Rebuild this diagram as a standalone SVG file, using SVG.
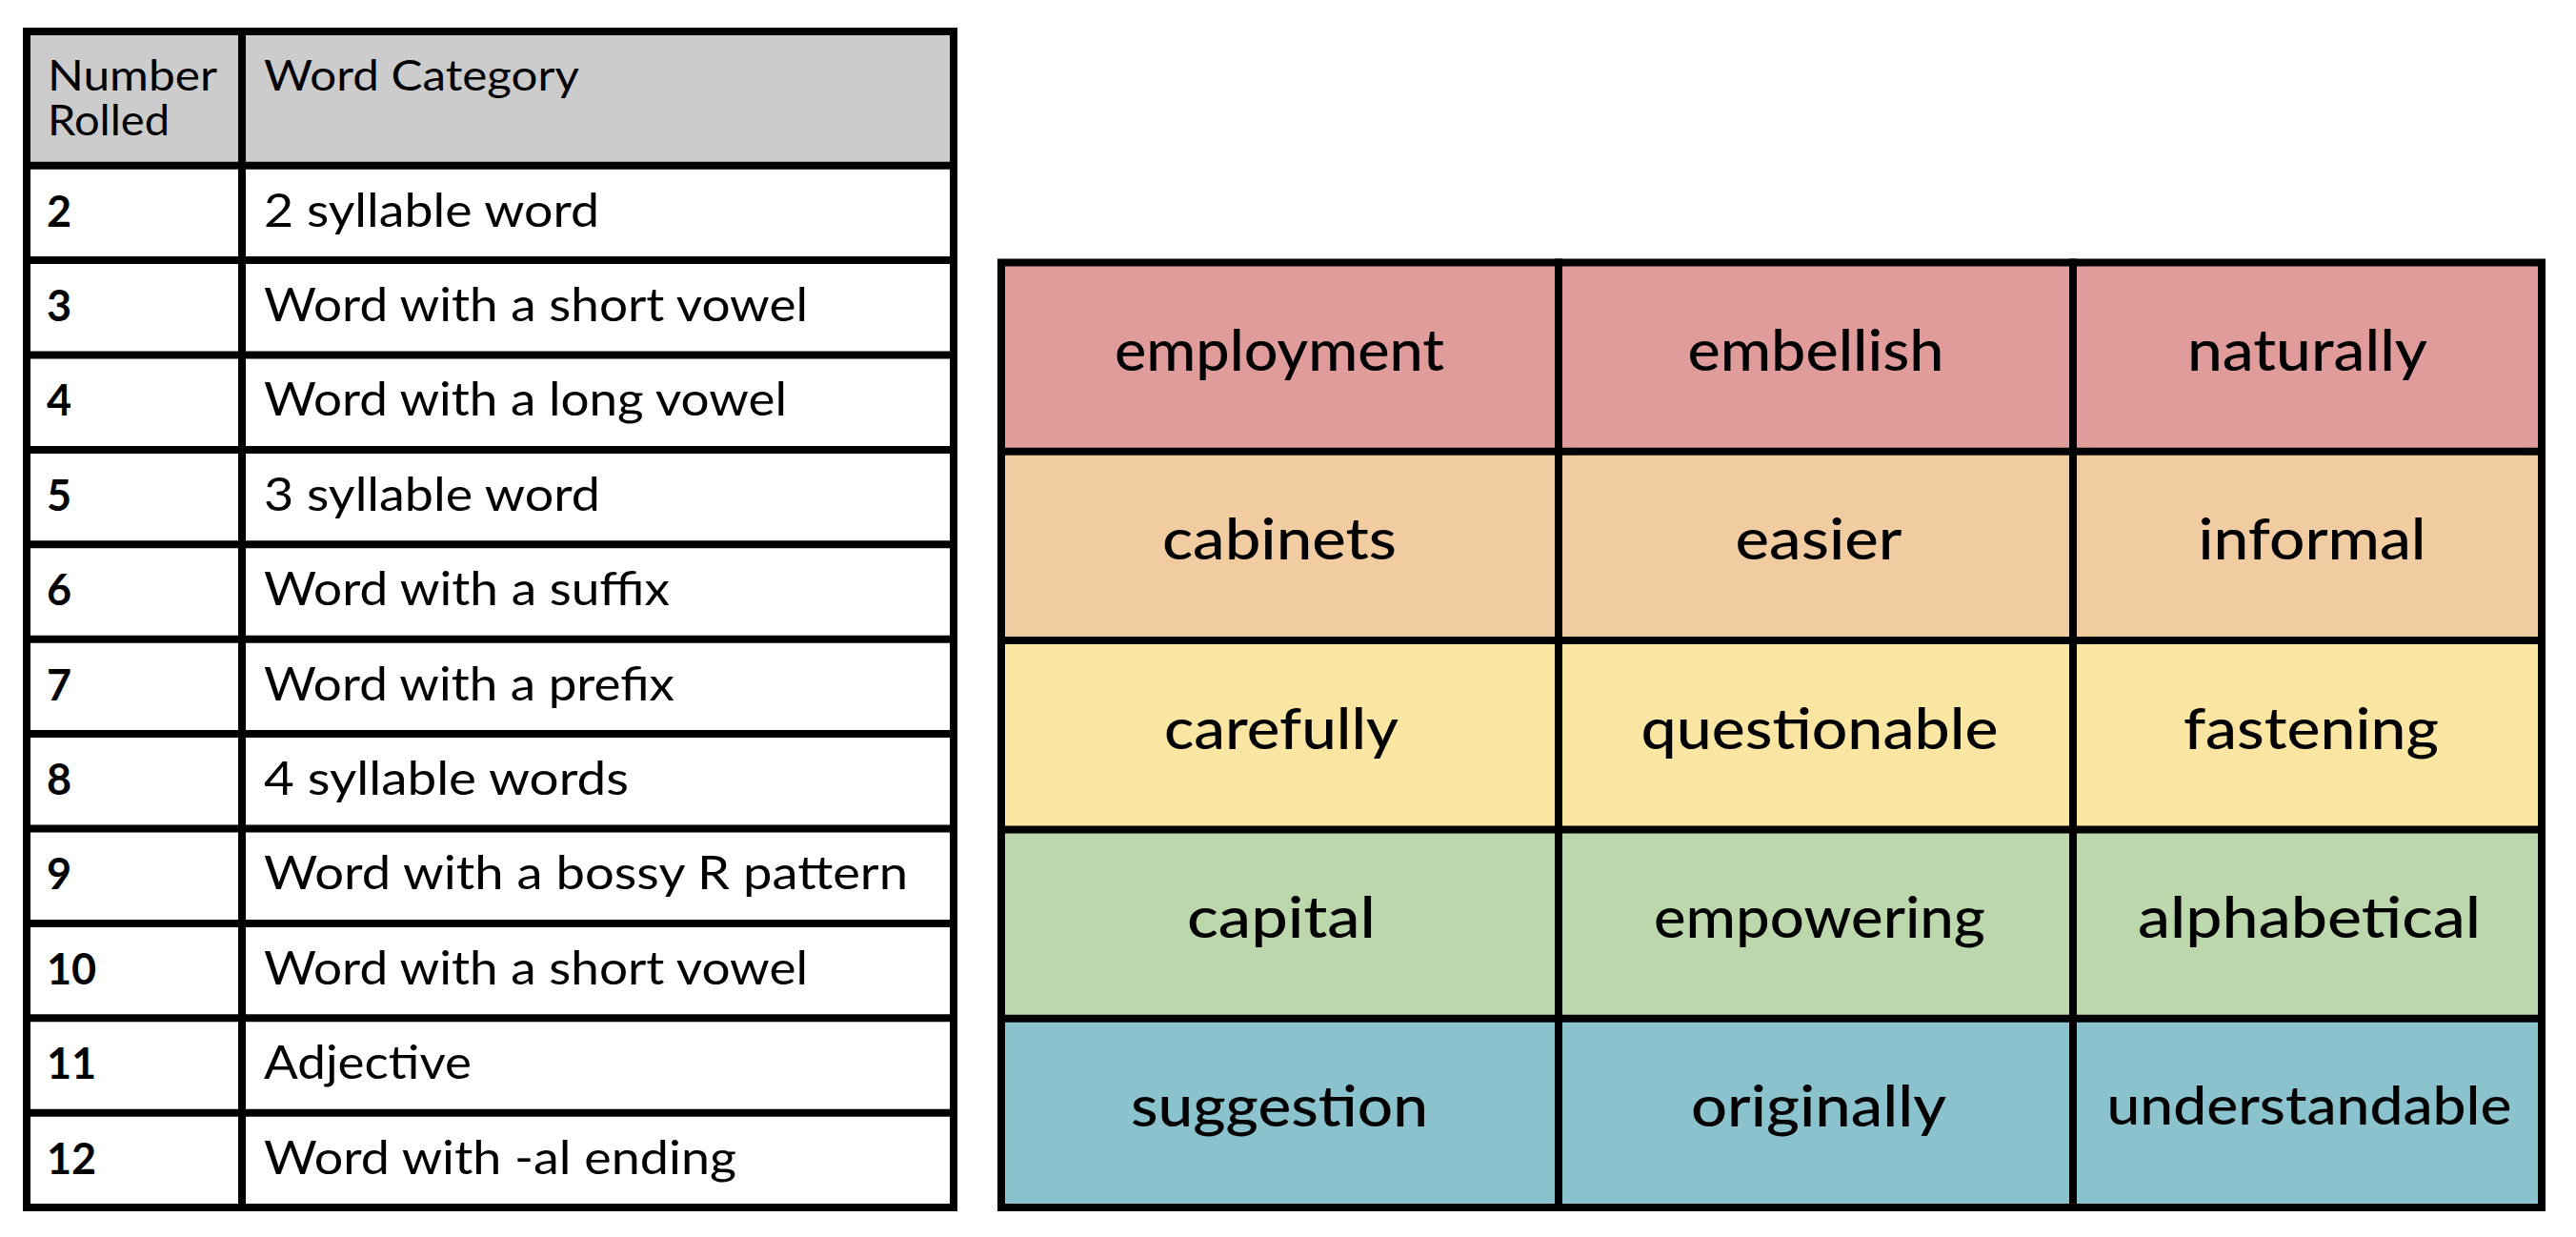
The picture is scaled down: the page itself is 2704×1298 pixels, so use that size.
<svg xmlns="http://www.w3.org/2000/svg" width="2704" height="1298" viewBox="0 0 2704 1298">
<style>
.bg{fill:#ffffff}
.hdr{fill:#cccccc}
.white{fill:#ffffff}
.r1{fill:#df9c9b}
.r2{fill:#f2cca1}
.r3{fill:#fae6a2}
.r4{fill:#bcd7ac}
.r5{fill:#8ac2cd}
.ln{stroke:#000000;stroke-width:8;fill:none;stroke-linecap:square}
.ht{font-family:Lato,"Liberation Sans",sans-serif;font-size:44px;fill:#000000}
.num{font-family:Lato,"Liberation Sans",sans-serif;font-size:45px;font-weight:700;fill:#000000}
.cat{font-family:Lato,"Liberation Sans",sans-serif;font-size:49px;fill:#000000}
.wd{font-family:Lato,"Liberation Sans",sans-serif;font-size:60px;font-weight:500;fill:#000000;text-anchor:middle}
.wds{font-family:Lato,"Liberation Sans",sans-serif;font-size:55px;font-weight:500;fill:#000000;text-anchor:middle}
</style>
<rect class="bg" x="0" y="0" width="2704" height="1298"/>

<!-- Left table: dice roll categories -->
<g id="roll-table">
  <g id="roll-header">
    <rect class="hdr" x="28" y="33" width="973" height="140.7"/>
    <text class="ht" x="50" y="95" textLength="178" lengthAdjust="spacingAndGlyphs">Number</text>
    <text class="ht" x="50" y="142" textLength="128" lengthAdjust="spacingAndGlyphs">Rolled</text>
    <text class="ht" x="277" y="95" textLength="331" lengthAdjust="spacingAndGlyphs">Word Category</text>
  </g>
  <rect class="white" x="28" y="173.7" width="973" height="1093.4"/>
  <g id="roll-2"><text class="num" x="49" y="237.5">2</text><text class="cat" x="277" y="237.5" textLength="352" lengthAdjust="spacingAndGlyphs">2 syllable word</text></g>
  <g id="roll-3"><text class="num" x="49" y="336.9">3</text><text class="cat" x="277" y="336.9" textLength="571" lengthAdjust="spacingAndGlyphs">Word with a short vowel</text></g>
  <g id="roll-4"><text class="num" x="49" y="436.3">4</text><text class="cat" x="277" y="436.3" textLength="549" lengthAdjust="spacingAndGlyphs">Word with a long vowel</text></g>
  <g id="roll-5"><text class="num" x="49" y="535.7">5</text><text class="cat" x="277" y="535.7" textLength="353" lengthAdjust="spacingAndGlyphs">3 syllable word</text></g>
  <g id="roll-6"><text class="num" x="49" y="635.1">6</text><text class="cat" x="277" y="635.1" textLength="426" lengthAdjust="spacingAndGlyphs">Word with a suffix</text></g>
  <g id="roll-7"><text class="num" x="49" y="734.5">7</text><text class="cat" x="277" y="734.5" textLength="431" lengthAdjust="spacingAndGlyphs">Word with a prefix</text></g>
  <g id="roll-8"><text class="num" x="49" y="833.9">8</text><text class="cat" x="277" y="833.9" textLength="383" lengthAdjust="spacingAndGlyphs">4 syllable words</text></g>
  <g id="roll-9"><text class="num" x="49" y="933.3">9</text><text class="cat" x="277" y="933.3" textLength="676" lengthAdjust="spacingAndGlyphs">Word with a bossy R pattern</text></g>
  <g id="roll-10"><text class="num" x="49" y="1032.7">10</text><text class="cat" x="277" y="1032.7" textLength="571" lengthAdjust="spacingAndGlyphs">Word with a short vowel</text></g>
  <g id="roll-11"><text class="num" x="49" y="1132.1">11</text><text class="cat" x="277" y="1132.1" textLength="218" lengthAdjust="spacingAndGlyphs">Adjective</text></g>
  <g id="roll-12"><text class="num" x="49" y="1231.5">12</text><text class="cat" x="277" y="1231.5" textLength="496" lengthAdjust="spacingAndGlyphs">Word with -al ending</text></g>
  <g id="roll-lines">
    <rect class="ln" x="28" y="33" width="973" height="1234"/>
    <line class="ln" x1="254" y1="33" x2="254" y2="1267"/>
    <line class="ln" x1="28" y1="173.7" x2="1001" y2="173.7"/>
    <line class="ln" x1="28" y1="273.1" x2="1001" y2="273.1"/>
    <line class="ln" x1="28" y1="372.5" x2="1001" y2="372.5"/>
    <line class="ln" x1="28" y1="471.9" x2="1001" y2="471.9"/>
    <line class="ln" x1="28" y1="571.3" x2="1001" y2="571.3"/>
    <line class="ln" x1="28" y1="670.7" x2="1001" y2="670.7"/>
    <line class="ln" x1="28" y1="770.1" x2="1001" y2="770.1"/>
    <line class="ln" x1="28" y1="869.5" x2="1001" y2="869.5"/>
    <line class="ln" x1="28" y1="968.9" x2="1001" y2="968.9"/>
    <line class="ln" x1="28" y1="1068.3" x2="1001" y2="1068.3"/>
    <line class="ln" x1="28" y1="1167.7" x2="1001" y2="1167.7"/>
  </g>
</g>

<!-- Right grid: words -->
<g id="word-grid">
  <rect class="r1" x="1051" y="275.5" width="1617" height="198.3"/>
  <rect class="r2" x="1051" y="473.8" width="1617" height="198.3"/>
  <rect class="r3" x="1051" y="672.1" width="1617" height="198.3"/>
  <rect class="r4" x="1051" y="870.4" width="1617" height="198.3"/>
  <rect class="r5" x="1051" y="1068.7" width="1617" height="198.3"/>

  <g id="w-employment"><text class="wd" x="1343" y="389" textLength="346" lengthAdjust="spacingAndGlyphs">employment</text></g>
  <g id="w-embellish"><text class="wd" x="1906" y="389" textLength="269" lengthAdjust="spacingAndGlyphs">embellish</text></g>
  <g id="w-naturally"><text class="wd" x="2422" y="389" textLength="252" lengthAdjust="spacingAndGlyphs">naturally</text></g>

  <g id="w-cabinets"><text class="wd" x="1343" y="587.3" textLength="246" lengthAdjust="spacingAndGlyphs">cabinets</text></g>
  <g id="w-easier"><text class="wd" x="1909" y="587.3" textLength="175" lengthAdjust="spacingAndGlyphs">easier</text></g>
  <g id="w-informal"><text class="wd" x="2427" y="587.3" textLength="239" lengthAdjust="spacingAndGlyphs">informal</text></g>

  <g id="w-carefully"><text class="wd" x="1345" y="785.6" textLength="246" lengthAdjust="spacingAndGlyphs">carefully</text></g>
  <g id="w-questionable"><text class="wd" x="1910" y="785.6" textLength="375" lengthAdjust="spacingAndGlyphs">questionable</text></g>
  <g id="w-fastening"><text class="wd" x="2426" y="785.6" textLength="268" lengthAdjust="spacingAndGlyphs">fastening</text></g>

  <g id="w-capital"><text class="wd" x="1345" y="983.9" textLength="198" lengthAdjust="spacingAndGlyphs">capital</text></g>
  <g id="w-empowering"><text class="wd" x="1910" y="983.9" textLength="348" lengthAdjust="spacingAndGlyphs">empowering</text></g>
  <g id="w-alphabetical"><text class="wd" x="2424" y="983.9" textLength="360" lengthAdjust="spacingAndGlyphs">alphabetical</text></g>

  <g id="w-suggestion"><text class="wd" x="1343" y="1182.2" textLength="312" lengthAdjust="spacingAndGlyphs">suggestion</text></g>
  <g id="w-originally"><text class="wd" x="1909" y="1182.2" textLength="268" lengthAdjust="spacingAndGlyphs">originally</text></g>
  <g id="w-understandable"><text class="wds" x="2424" y="1180" textLength="425" lengthAdjust="spacingAndGlyphs">understandable</text></g>

  <g id="grid-lines">
    <rect class="ln" x="1051" y="275.5" width="1617" height="991.5"/>
    <line class="ln" x1="1636" y1="275.5" x2="1636" y2="1267"/>
    <line class="ln" x1="2176" y1="275.5" x2="2176" y2="1267"/>
    <line class="ln" x1="1051" y1="473.8" x2="2668" y2="473.8"/>
    <line class="ln" x1="1051" y1="672.1" x2="2668" y2="672.1"/>
    <line class="ln" x1="1051" y1="870.4" x2="2668" y2="870.4"/>
    <line class="ln" x1="1051" y1="1068.7" x2="2668" y2="1068.7"/>
  </g>
</g>
</svg>
